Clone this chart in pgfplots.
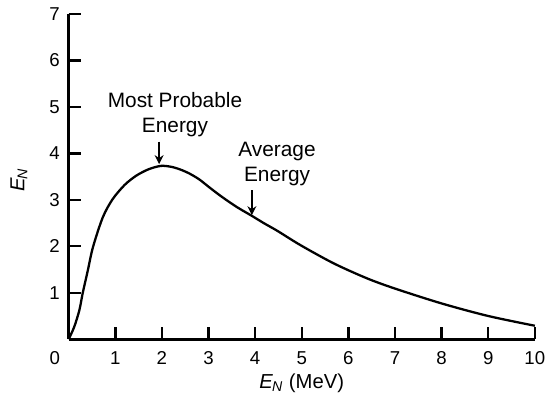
\documentclass[border=0pt]{standalone}
\usepackage{fontspec}
\setmainfont{Liberation Sans}
\usepackage{pgfplots}
\pgfplotsset{compat=1.18}
\usetikzlibrary{arrows.meta}

\newcommand{\EN}{\textit{E}\textsubscript{\kern-0.5pt\textit{N}}}

\begin{document}
\begin{tikzpicture}
\begin{axis}[
    scale only axis,
    width=235pt, height=164pt,
    xmin=0, xmax=10,
    ymin=0, ymax=7,
    axis lines=left,
    axis line style={-, line width=1.3pt},
    tick align=inside,
    major tick length=6pt,
    tick style={line width=1.2pt, black},
    xtick={1,2,3,4,5,6,7,8,9,10},
    ytick={1,2,3,4,5,6,7},
    extra x ticks={0},
    extra x tick style={major tick length=0pt, xticklabel style={xshift=-7pt}},
    /pgf/number format/assume math mode=true,
    tick label style={font=\fontsize{9.4}{11}\selectfont},
    xticklabel style={yshift=-2.5pt},
    yticklabel style={xshift=-1pt},
    xlabel={\EN\ (MeV)},
    ylabel={\EN},
    label style={font=\fontsize{10.2}{12}\selectfont},
    xlabel style={at={(axis description cs:0.5,-0.136)}, anchor=center},
    ylabel style={at={(axis description cs:-0.107,0.49)}, anchor=center},
    clip=false,
]
\addplot[black, line width=1.15pt, smooth] coordinates {
    (0,0) (0.12,0.27) (0.23,0.63) (0.30,0.99) (0.41,1.48) (0.52,1.98)
    (0.73,2.62) (0.94,3.01) (1.20,3.32) (1.45,3.52) (1.72,3.66)
    (1.98,3.73) (2.20,3.71) (2.40,3.65) (2.60,3.56) (2.80,3.44)
    (2.99,3.29) (3.21,3.12) (3.42,2.97) (3.63,2.83) (3.92,2.66)
    (4.20,2.49) (4.48,2.33) (4.98,2.02) (5.69,1.63) (6.40,1.31)
    (7.0,1.09) (8.0,0.77) (9.0,0.50) (10.0,0.29)
};
\node[align=center, font=\fontsize{10.5}{12.5}\selectfont]
    at (axis cs:2.28,4.83) {Most Probable\\Energy};
\node[align=center, font=\fontsize{10.5}{12.5}\selectfont]
    at (axis cs:4.47,3.77) {Average\\Energy};
\draw[line width=1pt, -{Stealth[length=4.5pt,width=4.5pt]}]
    (axis cs:1.94,4.25) -- (axis cs:1.94,3.77);
\draw[line width=1pt, -{Stealth[length=4.5pt,width=4.5pt]}]
    (axis cs:3.93,3.21) -- (axis cs:3.93,2.67);
\coordinate (bl) at (axis cs:-1.474,-1.333);
\coordinate (tr) at (axis cs:10.24,7.30);
\end{axis}
\pgfresetboundingbox
\path[use as bounding box] (bl) rectangle (tr);
\end{tikzpicture}
\end{document}
